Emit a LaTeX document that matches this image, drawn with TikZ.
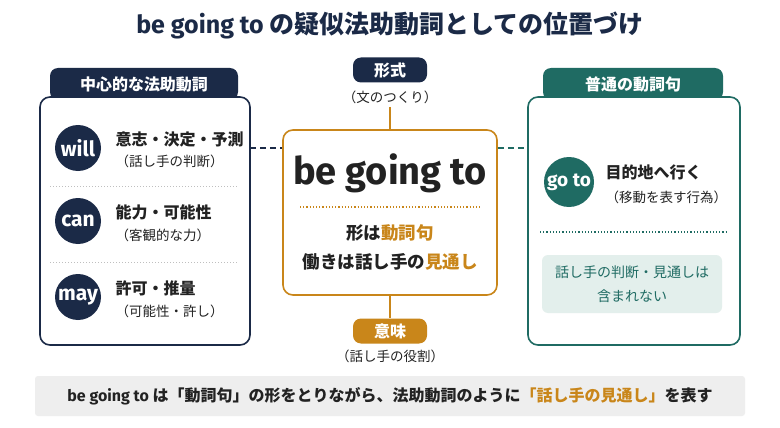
\documentclass[tikz,border=0pt]{standalone}
\usepackage{fontspec}
\setmainfont{Noto Sans CJK JP}
\newfontfamily\lat{Fira Sans}
\definecolor{navy}{HTML}{1B2A47}
\definecolor{org}{HTML}{C9861A}
\definecolor{teal}{HTML}{1F6B63}
\definecolor{lteal}{HTML}{E3EFEC}
\definecolor{gbar}{HTML}{EEEEEE}
\definecolor{txt}{HTML}{222222}
\begin{document}
\begin{tikzpicture}[x=1pt,y=-1pt,
  circ/.style={circle,fill=#1,minimum size=46pt,inner sep=0pt,text=white,font=\lat\bfseries\fontsize{21}{21}\selectfont},
  main/.style={anchor=west,font=\bfseries\fontsize{16}{18}\selectfont,text=txt},
  sub/.style={anchor=west,font=\fontsize{13.5}{15}\selectfont,text=txt},
  tab/.style={rounded corners=8pt,fill=#1},
  sep/.style={dotted,line width=1pt,gray!50},
  dsh/.style={line width=1.6pt,dash pattern=on 6pt off 4pt}]
\useasboundingbox (0,0) rectangle (780,428);
\fill[white] (0,0) rectangle (780,428);
\node (title) at (390,25) {\bfseries\fontsize{25}{28}\selectfont\color{navy}{\lat be going to} の疑似法助動詞としての位置づけ};
% left box
\fill[navy,rounded corners=8pt] (50,100) -- (50,68) -- (238,68) -- (238,100) -- cycle;
\node (ltab) at (144,84) {\textcolor{white}{\bfseries\fontsize{16}{18}\selectfont 中心的な法助動詞}};
\draw[navy,line width=1.6pt,rounded corners=10pt,fill=white] (40,97) rectangle (250,345);
\node[circ=navy] (will) at (78,148) {will};
\node[circ=navy] (can) at (78,221) {can};
\node[circ=navy] (may) at (78,297) {may};
\node[main] (w1) at (112,139) {意志・決定・予測};
\node[sub] (w2) at (112,161) {（話し手の判断）};
\node[main] (c1) at (112,212) {能力・可能性};
\node[sub] (c2) at (112,235) {（客観的な力）};
\node[main] (m1) at (112,288) {許可・推量};
\node[sub] (m2) at (112,311) {（可能性・許し）};
\draw[sep] (50,186) -- (238,186);
\draw[sep] (50,262) -- (238,262);
\coordinate (lE) at (250,148);
% center
\node[draw=org,line width=1.6pt,rounded corners=10pt,minimum width=214pt,minimum height=165pt] (cb) at (390,212.5) {};
\node (bgt) at (390,173) {\lat\bfseries\fontsize{38}{40}\selectfont\color{txt}be going to};
\draw[org,dotted,line width=1.2pt] (300,207) -- (480,207);
\node (f1) at (390,233) {\bfseries\fontsize{17.5}{19}\selectfont\color{txt}形は\textcolor{org}{動詞句}};
\node (f2) at (390,262) {\bfseries\fontsize{17.5}{19}\selectfont\color{txt}働きは話し手の\textcolor{org}{見通し}};
\draw[navy,dsh] (lE) -- (cb.west |- lE);
\node[tab=navy,minimum width=74pt,minimum height=25pt,text=white,font=\bfseries\fontsize{16}{18}\selectfont] (keishiki) at (390,70) {形式};
\node[font=\fontsize{13.5}{15}\selectfont,text=txt] (k2) at (390,97) {（文のつくり）};
\draw[org,line width=1.4pt] (k2.south) -- (cb.north);
\node[tab=org,minimum width=74pt,minimum height=25pt,text=white,font=\bfseries\fontsize{16}{18}\selectfont] (imi) at (390,331) {意味};
\node[font=\fontsize{13.5}{15}\selectfont,text=txt] (i2) at (390,356) {（話し手の役割）};
\draw[org,line width=1.4pt] (cb.south) -- (imi.north);
% right
\fill[teal,rounded corners=8pt] (543,100) -- (543,68) -- (723,68) -- (723,100) -- cycle;
\node (rtab) at (633,84) {\textcolor{white}{\bfseries\fontsize{16}{18}\selectfont 普通の動詞句}};
\draw[teal,line width=1.6pt,rounded corners=10pt,fill=white] (528,97) rectangle (740,345);
\coordinate (rW) at (528,148);
\draw[teal,dsh] (cb.east |- rW) -- (rW);
\node[circ=teal,minimum size=50pt,font=\lat\bfseries\fontsize{19}{19}\selectfont] (goto) at (569,182) {go to};
\node[main] (g1) at (602,172) {目的地へ行く};
\node[sub] (g2) at (602,197) {（移動を表す行為）};
\draw[teal,dotted,line width=1.2pt] (540,232) -- (726,232);
\node[fill=lteal,rounded corners=6pt,minimum width=180pt,minimum height=58pt,align=center,text=teal,font=\fontsize{14}{24}\selectfont] (nb) at (632,284) {話し手の判断・見通しは\\含まれない};
% bottom
\node[fill=gbar,rounded corners=3pt,minimum width=710pt,minimum height=40pt] (bar) at (390,396) {};
\node (bt) at (390,396) {\bfseries\fontsize{16}{18}\selectfont\color{txt}{\lat be going to} は「動詞句」の形をとりながら、法助動詞のように\textcolor{org}{「話し手の見通し」}を表す};
\end{tikzpicture}
\end{document}
